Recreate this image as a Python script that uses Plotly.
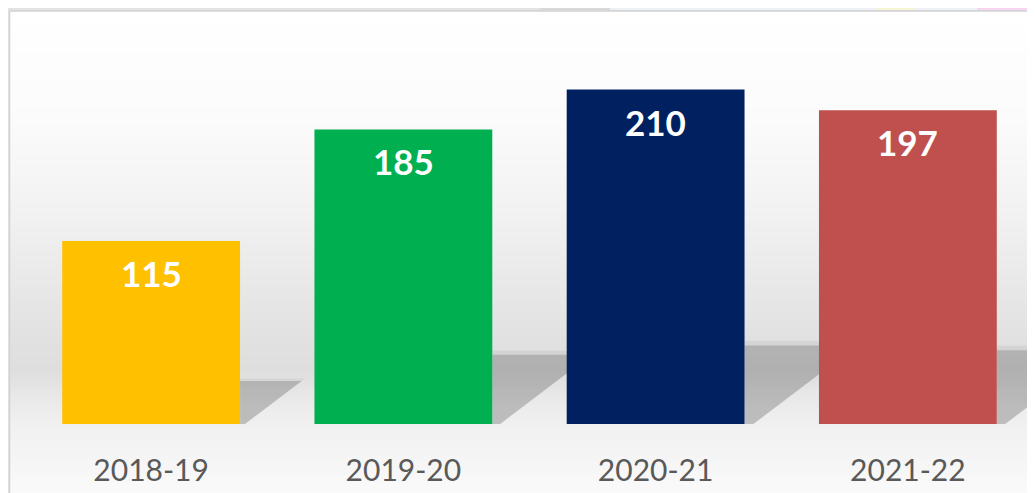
import plotly.graph_objects as go

categories = ["2018-19", "2019-20", "2020-21", "2021-22"]
values = [115, 185, 210, 197]
colors = ["#FFC000", "#00B050", "#002060", "#C0504D"]

# page is rendered with an 8px body margin; compensate
OFF = 8
PAGE_W, PAGE_H = 1035, 493
W, H = PAGE_W - OFF, PAGE_H - OFF
PLOT_L, PLOT_T, PLOT_B = 25, 10, 424          # plot area in page pixels
ML, MR, MT, MB = PLOT_L - OFF, 1, PLOT_T - OFF, PAGE_H - PLOT_B
PW, PH = W - ML - MR, H - MT - MB
YMAX = 260
BAR_W = 0.705


def px_to_paper_x(px):
    return (px - PLOT_L) / PW


def px_to_paper_y(py):
    return (PLOT_B - py) / PH


def gray(g):
    g = int(round(g))
    return f"rgb({g},{g},{g})"


shapes = []

# backdrop outside the panel
shapes.append(dict(type="rect", xref="paper", yref="paper", layer="below",
                   x0=px_to_paper_x(0), x1=px_to_paper_x(PAGE_W + 2), y0=px_to_paper_y(PAGE_H + 2), y1=px_to_paper_y(0),
                   fillcolor="#e4e4e4", line_width=0))
for x0, x1, c in [(0, 540, "#e3e3e3"), (540, 610, "#d9d9d9"), (610, 878, "#eef1f4"),
                  (878, 913, "#f6f5d4"), (913, 977, "#eef1f4"), (977, 1040, "#f7d4f2")]:
    shapes.append(dict(type="rect", xref="paper", yref="paper", layer="below",
                       x0=px_to_paper_x(x0), x1=px_to_paper_x(x1), y0=px_to_paper_y(10), y1=px_to_paper_y(0),
                       fillcolor=c, line_width=0))

# panel gradient
stops = [(11, 255), (120, 251), (200, 243), (280, 233), (340, 225), (370, 222),
         (405, 235), (424, 240), (493, 250)]


def grad(py):
    for (a, ga), (b, gb) in zip(stops[:-1], stops[1:]):
        if a <= py <= b:
            return ga + (gb - ga) * (py - a) / (b - a)
    return stops[-1][1]


step = 3
py = 11
while py < PAGE_H:
    shapes.append(dict(type="rect", xref="paper", yref="paper", layer="below",
                       x0=px_to_paper_x(10), x1=px_to_paper_x(PAGE_W + 2),
                       y0=px_to_paper_y(min(py + step, PAGE_H + 2)), y1=px_to_paper_y(py),
                       fillcolor=gray(grad(py + step / 2)), line_width=0))
    py += step

# panel border
shapes.append(dict(type="line", xref="paper", yref="paper", layer="below",
                   x0=px_to_paper_x(9.5), x1=px_to_paper_x(9.5), y0=px_to_paper_y(PAGE_H + 2), y1=px_to_paper_y(11),
                   line=dict(color="#d2d2d2", width=1.5)))
shapes.append(dict(type="line", xref="paper", yref="paper", layer="below",
                   x0=px_to_paper_x(9.5), x1=px_to_paper_x(PAGE_W + 2), y0=px_to_paper_y(11), y1=px_to_paper_y(11),
                   line=dict(color="#d2d2d2", width=1.5)))

# cast shadows behind the bars (derived from the data)
px_per_unit = PH / YMAX
px_per_cat = PW / 4
for i, v in enumerate(values):
    xr = i + BAR_W / 2
    hs = 0.235 * v
    dx = 1.43 * hs * px_per_unit / px_per_cat
    for frac, op in [(1.06, 0.05), (1.0, 0.16)]:
        shapes.append(dict(type="path", xref="x", yref="y", layer="below",
                           path=f"M {xr},0 L {xr},{hs*frac} L {xr+dx*frac},{hs*frac} L {xr+dx*0.08},0 Z",
                           fillcolor=f"rgba(0,0,0,{op})", line_width=0))

fig = go.Figure()
fig.add_trace(go.Bar(
    x=list(range(len(categories))), y=values, width=BAR_W,
    marker=dict(color=colors, line=dict(width=0)),
    hoverinfo="skip", showlegend=False,
))

annotations = []
for i, v in enumerate(values):
    annotations.append(dict(x=i, y=v, xref="x", yref="y", yshift=-32,
                            text=f"<b>{v}</b>", showarrow=False, yanchor="middle",
                            font=dict(family="Lato", size=35, color="white")))

fig.update_layout(
    width=W, height=H,
    margin=dict(l=ML, r=MR, t=MT, b=MB, pad=0),
    paper_bgcolor="#f5f5f5", plot_bgcolor="rgba(0,0,0,0)",
    shapes=shapes, annotations=annotations,
    xaxis=dict(range=[-0.5, 3.5], tickmode="array", tickvals=list(range(len(categories))),
               ticktext=categories, showgrid=False, zeroline=False, showline=False,
               ticks="outside", ticklen=20, tickcolor="rgba(0,0,0,0)",
               tickfont=dict(family="Lato", size=30, color="#595959"), fixedrange=True),
    yaxis=dict(range=[0, YMAX], visible=False, fixedrange=True),
    showlegend=False,
)

fig.write_html("out.html")
